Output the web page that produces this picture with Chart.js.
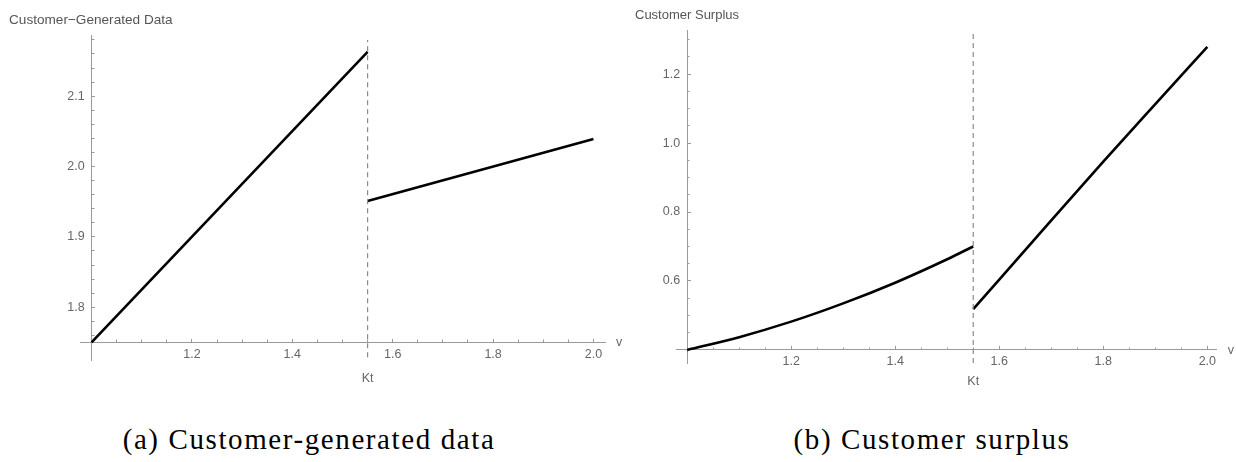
<!DOCTYPE html>
<html>
<head>
<meta charset="utf-8">
<script src="https://cdn.jsdelivr.net/npm/chart.js@4.4.1/dist/chart.umd.min.js"></script>
<style>
  body { margin: 0; background: #fff; }
  #wrap { position: relative; width: 1236px; height: 462px; overflow: hidden; }
  .panel { position: absolute; top: 0; }
  .ttl { position: absolute; font: 13px "Liberation Sans", Arial, sans-serif; color: #555; white-space: nowrap; }
  .cap { position: absolute; top: 422px; text-align: center; font: 29px "Liberation Serif", serif; letter-spacing: 1.6px; line-height: 34px; color: #000; }
</style>
</head>
<body>
<div id="wrap">
  <canvas id="cgd" class="panel" style="left:0" width="640" height="400"></canvas>
  <canvas id="cs" class="panel" style="left:618px" width="618" height="400"></canvas>
  <div class="ttl" style="left:9px; top:12px; font-size:13.6px">Customer−Generated Data</div>
  <div class="ttl" style="left:635px; top:7px">Customer Surplus</div>
  <div class="cap" style="left:0; width:618px">(a) Customer-generated data</div>
  <div class="cap" style="left:618px; width:628px">(b) Customer surplus</div>
</div>
<script>
// threshold where both curves jump
const kt = 1.55;

// (a) customer-generated data
const cgdXLow = [1.0, 1.55];
const cgdYLow = [1.75, 2.163];
const cgdXHigh = [1.55, 2.0];
const cgdYHigh = [1.951, 2.039];
const cgdKtLine = [1.729, 2.18];
const cgdYMajor = [1.8, 1.9, 2.0, 2.1];

// (b) customer surplus
const csXLow = [1.0, 1.1, 1.2, 1.3, 1.4, 1.5, 1.55];
const csYLow = [0.400, 0.437, 0.482, 0.535, 0.595, 0.663, 0.700];
const csXHigh = [1.55, 1.7, 1.8, 1.9, 2.0];
const csYHigh = [0.518, 0.776, 0.946, 1.113, 1.279];
const csKtLine = [0.362, 1.328];
const csYMajor = [0.6, 0.8, 1.0, 1.2];

const xMajor = [1.2, 1.4, 1.6, 1.8, 2.0];

const AXIS = '#9a9a9a';
const LABEL = '#666';
const FONT = { family: '"Liberation Sans", Arial, sans-serif', size: 12.5 };

function stepTicks(from, to, step) {
  const out = [];
  for (let v = from; v <= to + 1e-9; v += step) out.push(Math.round(v * 1000) / 1000);
  return out;
}

function pts(xs, ys) {
  return xs.map((x, i) => ({ x: x, y: ys[i] }));
}

function isMajor(list, v) {
  return list.some(m => Math.abs(m - v) < 1e-6);
}

function setTicks(list) {
  return scale => { scale.ticks = list.map(v => ({ value: v })); };
}

// "v" at the end of the x axis and "Kt" under the dashed line
const axisText = {
  id: 'axisText',
  afterDraw(chart, args, opts) {
    const { ctx, chartArea, scales } = chart;
    const axisY = scales.y.getPixelForValue(opts.originY);
    ctx.save();
    ctx.font = '12.5px "Liberation Sans", Arial, sans-serif';
    ctx.fillStyle = LABEL;
    ctx.textBaseline = 'alphabetic';
    ctx.textAlign = 'left';
    ctx.fillText('v', chartArea.right + 11, axisY + 4);
    ctx.textAlign = 'center';
    ctx.fillText('Kt', scales.x.getPixelForValue(kt), axisY + opts.ktOffset);
    ctx.restore();
  }
};

function makeChart(id, cfg) {
  const xMinor = stepTicks(1.05, 2.0, 0.05);
  new Chart(document.getElementById(id), {
    type: 'line',
    data: {
      datasets: [
        { data: pts([kt, kt], cfg.ktLine), borderColor: '#8a8a8a', borderWidth: 1.2, borderDash: [5, 4] },
        { data: pts(cfg.xLow, cfg.yLow), borderColor: '#000', borderWidth: 2.6, cubicInterpolationMode: 'monotone' },
        { data: pts(cfg.xHigh, cfg.yHigh), borderColor: '#000', borderWidth: 2.6, cubicInterpolationMode: 'monotone' }
      ]
    },
    options: {
      responsive: false,
      animation: false,
      layout: { padding: cfg.padding },
      elements: { point: { radius: 0 } },
      plugins: {
        legend: { display: false },
        tooltip: { enabled: false },
        axisText: { originY: cfg.yMin0, ktOffset: cfg.ktOffset }
      },
      scales: {
        x: {
          type: 'linear', position: { y: cfg.yMin0 }, min: cfg.xRange[0], max: cfg.xRange[1],
          afterBuildTicks: setTicks(xMajor),
          border: { color: AXIS, width: 1 },
          grid: { drawOnChartArea: false, tickLength: -4, tickColor: AXIS },
          ticks: { autoSkip: false, maxRotation: 0, padding: 8.5, color: LABEL, font: FONT,
                   callback: v => v.toFixed(1) }
        },
        xMinor: {
          type: 'linear', position: { y: cfg.yMin0 }, min: cfg.xRange[0], max: cfg.xRange[1],
          afterBuildTicks: setTicks(xMinor.filter(v => !isMajor(xMajor, v))),
          border: { display: false },
          grid: { drawOnChartArea: false, tickLength: -2.5, tickColor: AXIS },
          ticks: { display: false }
        },
        y: {
          type: 'linear', position: { x: 1.0 }, min: cfg.yRange[0], max: cfg.yRange[1],
          afterBuildTicks: setTicks(cfg.yMajor),
          border: { color: AXIS, width: 1 },
          grid: { drawOnChartArea: false, tickLength: -4, tickColor: AXIS },
          ticks: { autoSkip: false, color: LABEL, font: FONT, callback: v => v.toFixed(1) + '  ' }
        },
        yMinor: {
          type: 'linear', position: { x: 1.0 }, min: cfg.yRange[0], max: cfg.yRange[1],
          afterBuildTicks: setTicks(cfg.yMinor.filter(v => !isMajor(cfg.yMajor, v))),
          border: { display: false },
          grid: { drawOnChartArea: false, tickLength: -2.5, tickColor: AXIS },
          ticks: { display: false }
        }
      }
    },
    plugins: [axisText]
  });
}

makeChart('cgd', {
  xLow: cgdXLow, yLow: cgdYLow, xHigh: cgdXHigh, yHigh: cgdYHigh, ktLine: cgdKtLine,
  yMajor: cgdYMajor, yMinor: stepTicks(1.76, 2.18, 0.02),
  xRange: [0.977, 2.023], yRange: [1.725, 2.187], yMin0: 1.75,
  padding: { left: 80, right: 35, top: 35, bottom: 40 }, ktOffset: 40
});

makeChart('cs', {
  xLow: csXLow, yLow: csYLow, xHigh: csXHigh, yHigh: csYHigh, ktLine: csKtLine,
  yMajor: csYMajor, yMinor: stepTicks(0.45, 1.30, 0.05),
  xRange: [0.98, 2.018], yRange: [0.362, 1.328], yMin0: 0.4,
  padding: { left: 58.7, right: 19.3, top: 30, bottom: 37 }, ktOffset: 35
});
</script>
</body>
</html>
